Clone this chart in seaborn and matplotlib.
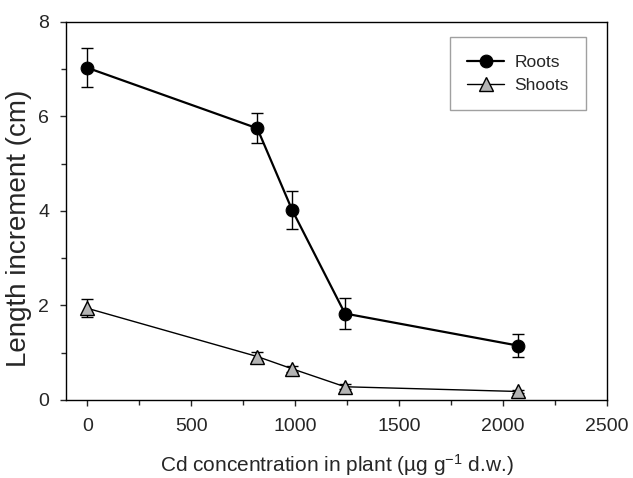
import matplotlib
matplotlib.use("Agg")
import matplotlib.pyplot as plt
import seaborn as sns
import pandas as pd
from matplotlib.ticker import MultipleLocator

cd_conc = [0, 817, 985, 1239, 2073]
roots = [7.03, 5.75, 4.02, 1.83, 1.15]
roots_err = [0.41, 0.32, 0.40, 0.33, 0.24]
shoots = [1.94, 0.92, 0.66, 0.28, 0.18]
shoots_err = [0.19, 0.10, 0.06, 0.05, 0.04]

sns.set_style("ticks")
plt.rcParams['font.family'] = ['Liberation Sans', 'DejaVu Sans']
plt.rcParams['mathtext.default'] = 'regular'

fig = plt.figure(figsize=(6.33, 4.78), dpi=100)
ax = fig.add_axes([0.1043, 0.1632, 0.8547, 0.7908])

df_r = pd.DataFrame({"x": cd_conc, "y": roots})
df_s = pd.DataFrame({"x": cd_conc, "y": shoots})

ax.errorbar(cd_conc, roots, yerr=roots_err, fmt="none", ecolor="black",
            elinewidth=1.0, capsize=4.5, capthick=1.0, zorder=2)
ax.errorbar(cd_conc, shoots, yerr=shoots_err, fmt="none", ecolor="black",
            elinewidth=1.0, capsize=4.5, capthick=1.0, zorder=2)

sns.lineplot(data=df_r, x="x", y="y", ax=ax, color="black", lw=1.6,
             marker="o", markersize=9.2, markerfacecolor="black",
             markeredgecolor="black", label="Roots", zorder=3)
sns.lineplot(data=df_s, x="x", y="y", ax=ax, color="black", lw=1.0,
             marker="^", markersize=9.5, markerfacecolor="#b4b4b4",
             markeredgecolor="black", markeredgewidth=1.0, label="Shoots", zorder=3)

ax.set_xlim(-103, 2500)
ax.set_ylim(0, 8)
ax.xaxis.set_major_locator(MultipleLocator(500))
ax.xaxis.set_minor_locator(MultipleLocator(250))
ax.yaxis.set_major_locator(MultipleLocator(2))
ax.yaxis.set_minor_locator(MultipleLocator(1))
ax.tick_params(which="major", direction="out", length=4, width=1, labelsize=14, pad=8)
ax.tick_params(which="minor", direction="out", length=3.5, width=1)
ax.tick_params(axis="x", which="major", pad=9)

for s in ax.spines.values():
    s.set_linewidth(1.0)
    s.set_color("black")

ax.set_xlabel("Cd concentration in plant (µg g$^{-1}$ d.w.)", fontsize=15)
ax.xaxis.label.set_verticalalignment("baseline")
ax.xaxis.set_label_coords(0.5, -0.1905)
ax.set_ylabel("Length increment (cm)", fontsize=20)
ax.yaxis.set_label_coords(-0.063, 0.455)

leg = ax.legend(loc="upper right", bbox_to_anchor=(0.961, 0.960), borderaxespad=0,
                fontsize=12.5, frameon=True, fancybox=False, edgecolor="#888888",
                handlelength=2.1, handletextpad=0.6, borderpad=1.0, labelspacing=0.45)
leg.get_frame().set_linewidth(1.0)

fig.savefig("out.png", dpi=100)
